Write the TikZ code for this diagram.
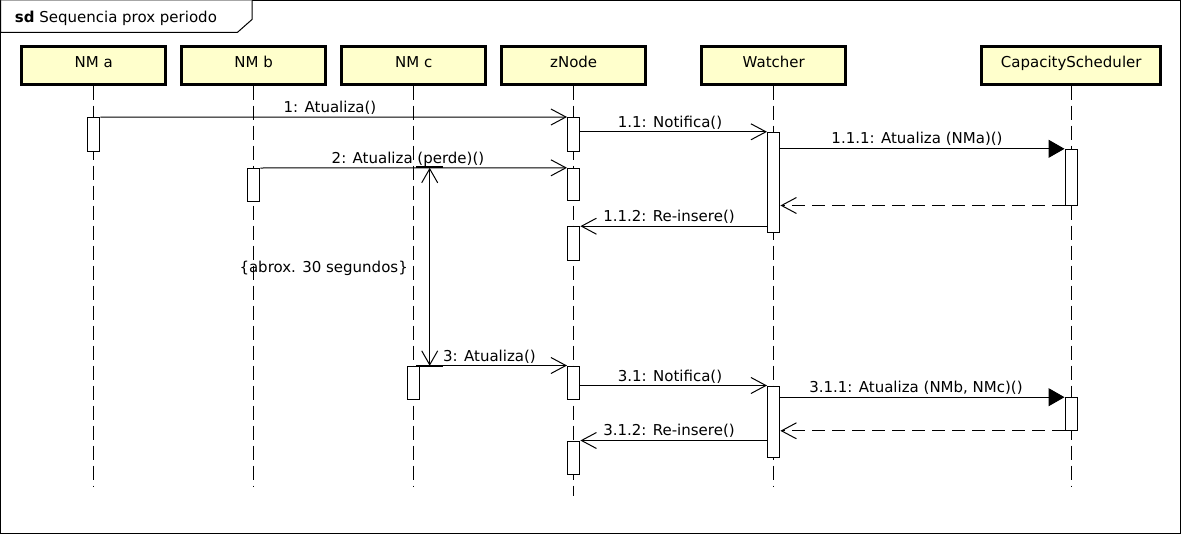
\documentclass[tikz,border=0pt]{standalone}
\usepackage{fontspec}
\setmainfont{DejaVu Sans}
\usetikzlibrary{arrows.meta}
\definecolor{hdrfill}{HTML}{FFFFCC}
\begin{document}
\begin{tikzpicture}[x=1pt,y=-1pt,
  txt/.style={font=\fontsize{15}{18}\selectfont, inner sep=0pt, text=black},
  hdrbox/.style={draw=black, line width=3pt, fill=hdrfill, minimum height=37.7pt, inner sep=0pt},
  life/.style={draw=black, line width=1pt, dash pattern=on 14pt off 6pt},
  act/.style={draw=black, fill=white, line width=1pt, minimum width=12.4pt, inner sep=0pt},
  msg/.style={draw=black, line width=1pt, -{Straight Barb[length=15pt,width=16pt]}},
  sync/.style={draw=black, line width=1pt, -{Triangle[length=16pt,width=18pt]}},
  ret/.style={draw=black, line width=1pt, dash pattern=on 13pt off 7pt, -{Straight Barb[length=15pt,width=16pt]}},
  tick/.style={draw=black, line width=2pt}
]
\useasboundingbox (0,0) rectangle (1182,535);
% frame
\draw[line width=1pt] (0.5,0.5) rectangle (1180.5,533.5);
\draw[line width=1pt, fill=white] (0.5,0.5) -- (0.5,32.3) -- (237.5,32.3) -- (252,19.5) -- (252,0.5);
\node[txt, anchor=base west] (title) at (14.7,22.7) {\textbf{sd} Sequencia prox periodo};

% headers
\node[hdrbox, minimum width=144.3pt] (hA) at (93.7,65.35) {};
\node[hdrbox, minimum width=144.3pt] (hB) at (253.7,65.35) {};
\node[hdrbox, minimum width=144.3pt] (hC) at (413.7,65.35) {};
\node[hdrbox, minimum width=144.3pt] (hZ) at (573.7,65.35) {};
\node[hdrbox, minimum width=144.3pt] (hW) at (773.7,65.35) {};
\node[hdrbox, minimum width=179.3pt] (hS) at (1071.2,65.35) {};
\node[txt, anchor=base] (tA) at (93.7,67.7) {NM a};
\node[txt, anchor=base] (tB) at (253.7,67.7) {NM b};
\node[txt, anchor=base] (tC) at (413.7,67.7) {NM c};
\node[txt, anchor=base] (tZ) at (573.7,67.7) {zNode};
\node[txt, anchor=base] (tW) at (773.7,67.7) {Watcher};
\node[txt, anchor=base] (tS) at (1071.2,67.7) {CapacityScheduler};

% lifeline ends
\coordinate (eA) at (93.7,486);
\coordinate (eB) at (253.7,486);
\coordinate (eC) at (413.7,486);
\coordinate (eZ) at (573.7,496);
\coordinate (eW) at (773.7,486);
\coordinate (eS) at (1071.2,486);
\draw[life] (hA.south) -- (eA);
\draw[life] (hB.south) -- (eB);
\draw[life] (hC.south) -- (eC);
\draw[life] (hZ.south) -- (eZ);
\draw[life] (hW.south) -- (eW);
\draw[life] (hS.south) -- (eS);

% activations
\node[act, minimum height=33.6pt] (a1) at (93.7,134.5) {};
\node[act, minimum height=33.8pt] (z1) at (573.7,134.4) {};
\node[act, minimum height=100pt] (w1) at (773.7,182.3) {};
\node[act, minimum height=55.7pt] (s1) at (1071.2,177.15) {};
\node[act, minimum height=32.5pt] (b1) at (253.7,184.75) {};
\node[act, minimum height=32.4pt] (z2) at (573.7,184.5) {};
\node[act, minimum height=33.6pt] (z3) at (573.7,243.5) {};
\node[act, minimum height=33pt] (c1) at (413.7,382.5) {};
\node[act, minimum height=33pt] (z4) at (573.7,382.5) {};
\node[act, minimum height=71.3pt] (w2) at (773.7,421.65) {};
\node[act, minimum height=32.6pt] (s2) at (1071.2,414) {};
\node[act, minimum height=33pt] (z5) at (573.7,457.5) {};

% messages
\draw[msg] (a1.north east) -- (z1.north west);
\draw[msg] (z1.east |- w1.north) -- (w1.north west);
\draw[sync] (w1.east |- s1.north) -- (s1.north west);
\draw[ret] (s1.south west) -- (w1.east |- s1.south);
\draw[msg] (b1.north east) -- (z2.north west);
\draw[msg] (w1.west |- z3.north) -- (z3.north east);
\draw[msg] (c1.north east) -- (z4.north west);
\draw[msg] (z4.east |- w2.north) -- (w2.north west);
\draw[sync] (w2.east |- s2.north) -- (s2.north west);
\draw[ret] (s2.south west) -- (w2.east |- s2.south);
\draw[msg] (w2.west |- z5.north) -- (z5.north east);

% duration constraint
\coordinate (dtop) at (429.7,167.8);
\coordinate (dbot) at (429.7,365.8);
\coordinate (ttl) at (416,167.3);
\coordinate (ttr) at (443.3,167.3);
\coordinate (tbl) at (416,365.5);
\coordinate (tbr) at (443.3,365.5);
\draw[line width=1pt, {Straight Barb[length=14pt,width=16pt]}-{Straight Barb[length=14pt,width=16pt]}] (dtop) -- (dbot);
\draw[tick] (ttl) -- (ttr);
\draw[tick] (tbl) -- (tbr);

% labels
\node[txt, anchor=base] (l1) at (330,112.5) {1: Atualiza()};
\node[txt, anchor=base] (l11) at (670,127) {1.1: Notifica()};
\node[txt, anchor=base] (l111) at (917,143.8) {1.1.1: Atualiza (NMa)()};
\node[txt, anchor=base] (l2) at (408,163) {2: Atualiza (perde)()};
\node[txt, anchor=base] (l112) at (669,221.5) {1.1.2: Re-insere()};
\node[txt, anchor=base east] (ldur) at (408,272) {\{abrox. 30 segundos\}};
\node[txt, anchor=base] (l3) at (489.5,361) {3: Atualiza()};
\node[txt, anchor=base] (l31) at (670,381) {3.1: Notifica()};
\node[txt, anchor=base] (l311) at (916,392) {3.1.1: Atualiza (NMb, NMc)()};
\node[txt, anchor=base] (l312) at (669,435.7) {3.1.2: Re-insere()};
\end{tikzpicture}
\end{document}
